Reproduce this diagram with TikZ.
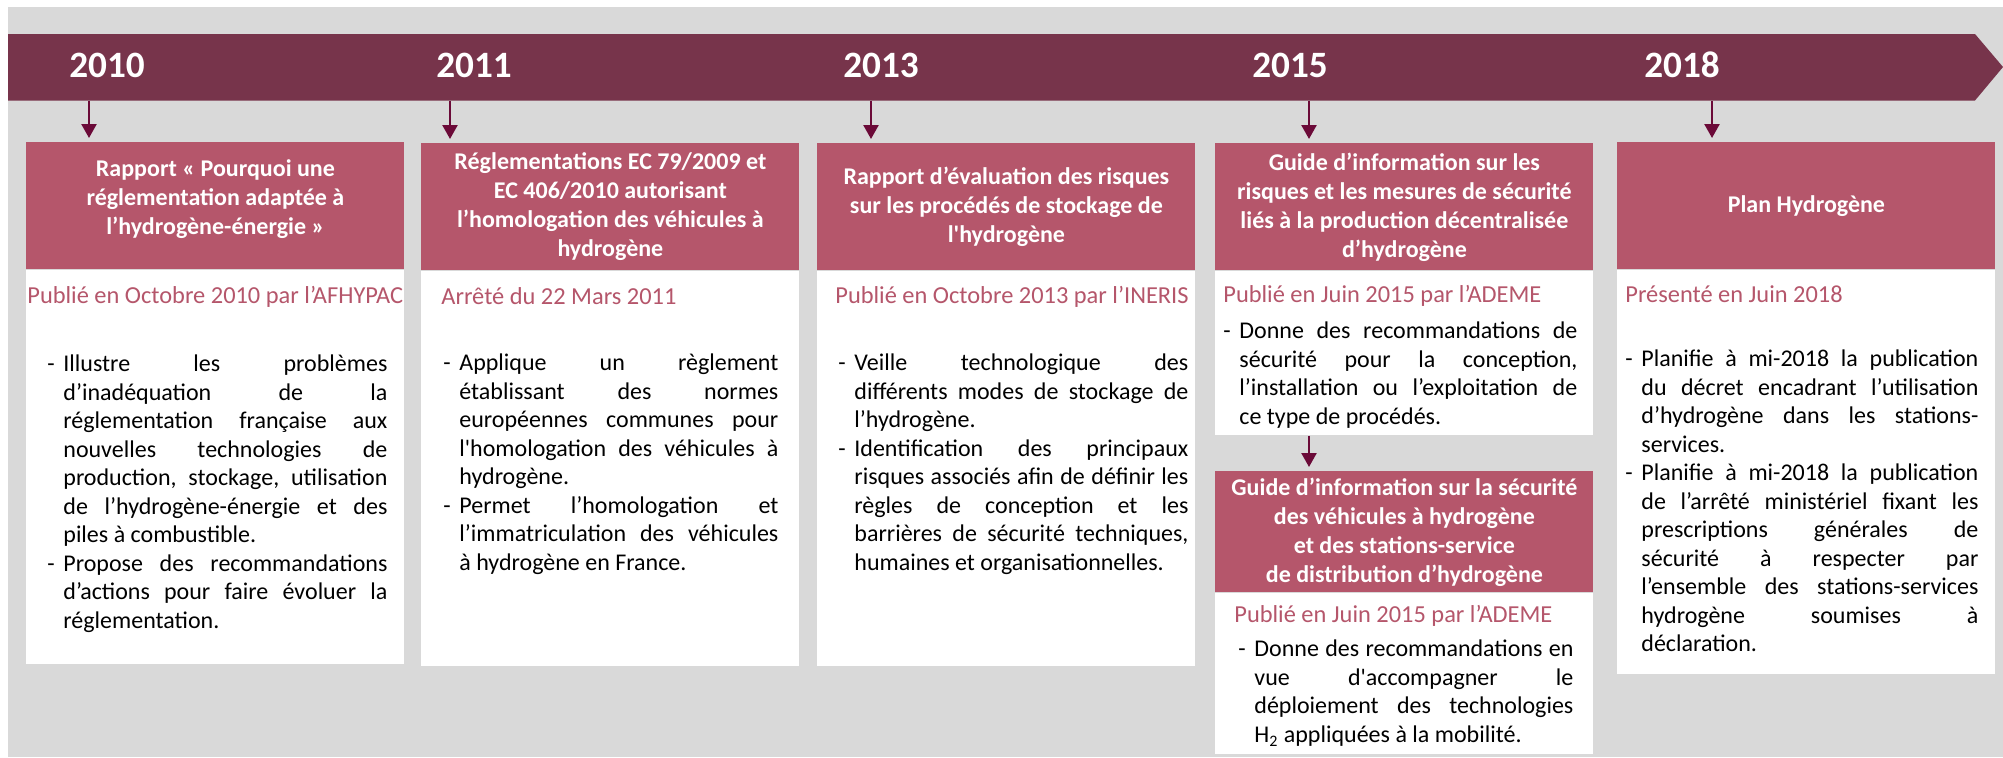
\documentclass[tikz,border=0pt]{standalone}
\usepackage{fontspec}
\setmainfont{Carlito}[Ligatures=TeXOff]
\usetikzlibrary{arrows.meta,positioning}
\definecolor{bandPlum}{HTML}{77344B}
\definecolor{headRose}{HTML}{B5566B}
\definecolor{subRose}{HTML}{B5566B}
\definecolor{arrowPlum}{HTML}{6B0A38}
\definecolor{backGray}{HTML}{D9D9D9}
\tolerance=10000
\hyphenpenalty=10000
\newcommand{\tiret}{\par\noindent\hangindent=8pt\hangafter=1\relax\makebox[8pt][l]{\rule{0pt}{11pt}-}}

\begin{document}
\begin{tikzpicture}[
        x=0.5pt, y=-0.5pt,
        head/.style={rectangle, fill=headRose, text=white, font=\fontsize{12}{14.5}\selectfont\bfseries, minimum width=189pt, minimum height=63.5pt, inner sep=0pt, align=center, anchor=north west},
        body/.style={rectangle, fill=white, minimum width=189pt, inner sep=0pt, below=0pt of #1},
        year/.style={text=white, font=\fontsize{18.6}{22}\selectfont\bfseries, anchor=base, inner sep=0pt},
        sub/.style={text=subRose, font=\fontsize{12.2}{14.25}\selectfont, anchor=base west, inner sep=0pt},
        list/.style={font=\fontsize{12}{14.25}\selectfont, anchor=north west, inner sep=0pt, align=justify},
        arrow/.style={-{Triangle[width=7.5pt,length=7pt]}, line width=1.2pt, draw=arrowPlum, shorten >=2pt}
      ]
        \useasboundingbox (0,0) rectangle (2003,757);
        \fill[backGray] (8,7) rectangle (2003,757);
        % bandeau des annees
        \fill[bandPlum] (8,34) -- (1975,34) -- (2003,67) -- (1975,100.5) -- (8,100.5) -- cycle;
        \node[year] (y2010) at (107,77) {2010};
        \node[year] (y2011) at (474,77) {2011};
        \node[year] (y2013) at (881,77) {2013};
        \node[year] (y2015) at (1290,77) {2015};
        \node[year] (y2018) at (1682,77) {2018};
        \coordinate (t2010) at (89,100.5);
        \coordinate (t2011) at (450,100.5);
        \coordinate (t2013) at (871,100.5);
        \coordinate (t2015) at (1309,100.5);
        \coordinate (t2018) at (1712,100.5);

        % 2010
        \node[head] (h1) at (26,142) {Rapport « Pourquoi une\\réglementation adaptée à\\l’hydrogène-énergie »\\[-6pt]};
        \node[body=h1, minimum height=197pt] (b1) {};
        \node[sub] (s1) at (27,303) {Publié en Octobre 2010 par l’AFHYPAC};
        \node[list, text width=170pt] (l1) at (47,343) {\tiret Illustre les problèmes\linebreak d’inadéquation de la\linebreak réglementation française aux\linebreak nouvelles technologies de\linebreak production, stockage, utilisation\linebreak de l’hydrogène-énergie et des\linebreak piles à combustible.
          \tiret Propose des recommandations\linebreak d’actions pour faire évoluer la\linebreak réglementation.\par};

        % 2011
        \node[head] (h2) at (421,143) {Réglementations EC 79/2009 et\\EC 406/2010 autorisant\\l’homologation des véhicules à\\hydrogène};
        \node[body=h2, minimum height=197.5pt] (b2) {};
        \node[sub] (s2) at (441,304) {Arrêté du 22 Mars 2011};
        \node[list, text width=167.5pt] (l2) at (443,342) {\tiret Applique un règlement\linebreak établissant des normes\linebreak européennes communes pour\linebreak l'homologation des véhicules à\linebreak hydrogène.
          \tiret Permet l’homologation et\linebreak l’immatriculation des véhicules\linebreak à hydrogène en France.\par};

        % 2013
        \node[head] (h3) at (817,143) {Rapport d’évaluation des risques\\sur les procédés de stockage de\\l'hydrogène};
        \node[body=h3, minimum height=197.5pt] (b3) {};
        \node[sub] (s3) at (835,303) {Publié en Octobre 2013 par l’INERIS};
        \node[list, text width=175pt] (l3) at (838,342) {\tiret Veille technologique des\linebreak différents modes de stockage de\linebreak l’hydrogène.
          \tiret Identification des principaux\linebreak risques associés afin de définir les\linebreak règles de conception et les\linebreak barrières de sécurité techniques,\linebreak humaines et organisationnelles.\par};

        % 2015
        \node[head] (h4) at (1215,143) {Guide d’information sur les\\risques et les mesures de sécurité\\liés à la production décentralisée\\d’hydrogène};
        \node[body=h4, minimum height=82pt] (b4) {};
        \node[sub] (s4) at (1223,302) {Publié en Juin 2015 par l’ADEME};
        \node[list, text width=177pt] (l4) at (1223,310) {\tiret Donne des recommandations de\linebreak sécurité pour la conception,\linebreak l’installation ou l’exploitation de\linebreak ce type de procédés.\par};

        \node[head, minimum height=60.5pt] (h4b) at (1215,471) {Guide d’information sur la sécurité\\des véhicules à hydrogène\\et des stations-service\\de distribution d’hydrogène};
        \node[body=h4b, minimum height=80.3pt] (b4b) {};
        \node[sub] (s4b) at (1234,622) {Publié en Juin 2015 par l’ADEME};
        \node[list, text width=167.5pt] (l4b) at (1238,628) {\tiret Donne des recommandations en\linebreak vue d'accompagner le\linebreak déploiement des technologies\linebreak H\textsubscript{2} appliquées à la mobilité.\par};

        % 2018
        \node[head] (h5) at (1617,142) {Plan Hydrogène};
        \node[body=h5, minimum height=201.8pt] (b5) {};
        \node[sub] (s5) at (1625,302) {Présenté en Juin 2018};
        \node[list, text width=176.5pt] (l5) at (1625,338) {\tiret Planifie à mi-2018 la publication\linebreak du décret encadrant l’utilisation\linebreak d’hydrogène dans les stations-\linebreak services.
          \tiret Planifie à mi-2018 la publication\linebreak de l’arrêté ministériel fixant les\linebreak prescriptions générales de\linebreak sécurité à respecter par\linebreak l’ensemble des stations-services\linebreak hydrogène soumises à\linebreak déclaration.\par};

        % fleches
        \draw[arrow] (t2010) -- (t2010 |- h1.north);
        \draw[arrow] (t2011) -- (t2011 |- h2.north);
        \draw[arrow] (t2013) -- (t2013 |- h3.north);
        \draw[arrow] (t2015) -- (t2015 |- h4.north);
        \draw[arrow] (t2018) -- (t2018 |- h5.north);
        \draw[arrow] (b4.south -| t2015) -- (t2015 |- h4b.north);
      \end{tikzpicture}
\end{document}
